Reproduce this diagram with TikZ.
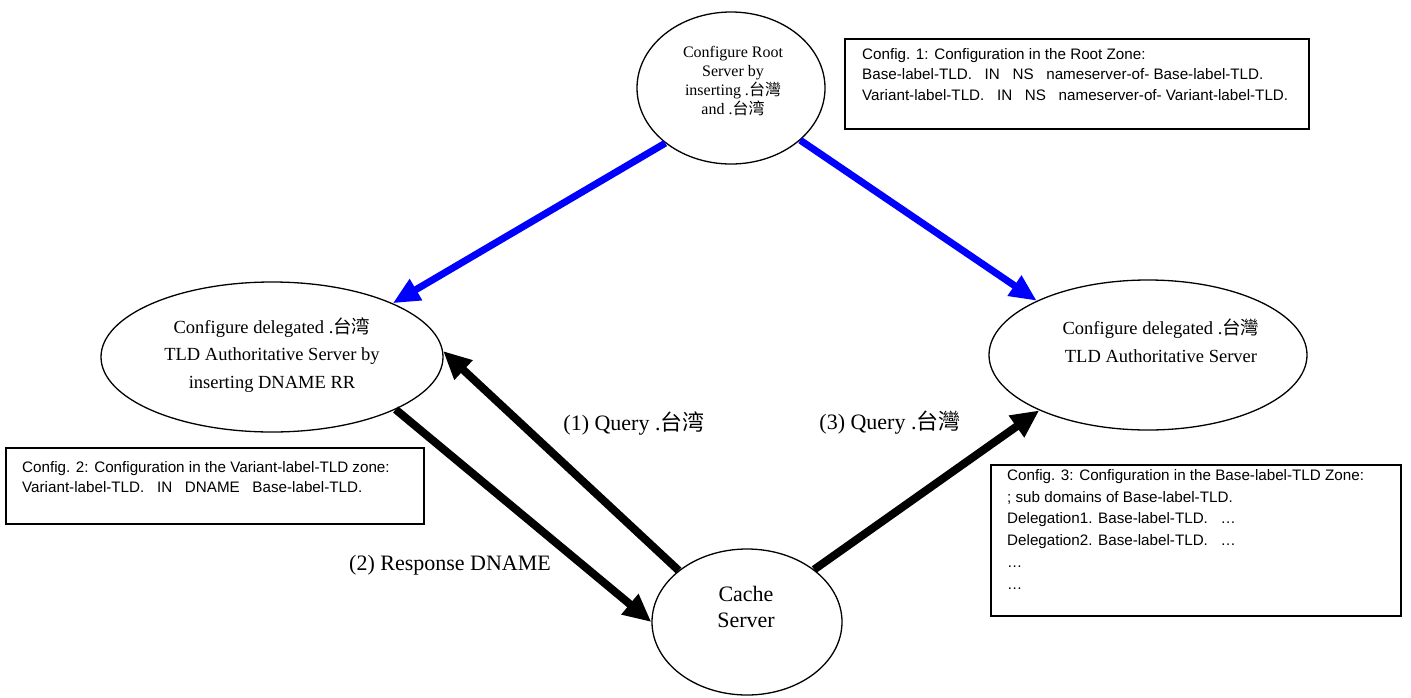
\documentclass[tikz,border=0pt]{standalone}
\usepackage{fontspec}
\setmainfont{Liberation Serif}
\setsansfont{Liberation Sans}
\newfontfamily\cjk{Noto Sans CJK TC}
\usetikzlibrary{arrows.meta,shapes.geometric}
\begin{document}
\begin{tikzpicture}[x=1pt,y=-1pt,
 ell/.style={draw, ellipse, line width=1.3pt, inner sep=0pt},
 cfgbox/.style={draw, line width=1.8pt, rectangle, inner sep=0pt, anchor=north west},
 cfgtext/.style={anchor=north west, inner sep=0pt, align=left, font=\sffamily\fontsize{15.2}{20.5}\selectfont},
 bluearrow/.style={draw=blue, line width=7pt, -{Triangle[length=27pt,width=23pt]}},
 blackarrow/.style={draw=black, line width=8pt, -{Triangle[length=28pt,width=25pt]}},
 lbl/.style={inner sep=0pt, font=\fontsize{22}{26}\selectfont},
 etext/.style={inner sep=0pt, align=center}
]
\useasboundingbox (0,0) rectangle (1411,697);
% ellipses
\node[ell, minimum width=188pt, minimum height=152pt] (root) at (731,88) {};
\node[ell, minimum width=342pt, minimum height=150pt] (left) at (272,357) {};
\node[ell, minimum width=318pt, minimum height=150pt] (right) at (1148,355) {};
\node[ell, minimum width=190pt, minimum height=146pt] (cache) at (747,622) {};
% ellipse texts
\node[etext, font=\fontsize{16}{19}\selectfont] (roottxt) at (733,81)
 {Configure Root\\Server by\\inserting .{\cjk 台灣}\\and .{\cjk 台湾}};
\node[etext, font=\fontsize{18.5}{27.5}\selectfont] (lefttxt) at (272,355)
 {Configure delegated .{\cjk 台湾}\\TLD Authoritative Server by\\inserting DNAME RR};
\node[etext, font=\fontsize{18.5}{27.5}\selectfont] (righttxt) at (1161,341)
 {Configure delegated .{\cjk 台灣}\\TLD Authoritative Server};
\node[etext, font=\fontsize{22}{26}\selectfont] (cachetxt) at (746,607)
 {Cache\\Server};
% config boxes
\node[cfgbox, minimum width=464pt, minimum height=90pt] (box1) at (844,38) {};
\node[cfgtext] (cfg1) at (862,48)
 {Config. 1: Configuration in the Root Zone:\\
  Base-label-TLD.\ \ \ IN\ \ \ NS\ \ \ nameserver-of- Base-label-TLD.\\
  Variant-label-TLD.\ \ \ IN\ \ \ NS\ \ \ nameserver-of- Variant-label-TLD.};
\node[cfgbox, minimum width=418pt, minimum height=76pt] (box2) at (5,447) {};
\node[cfgtext] (cfg2) at (22,461)
 {Config. 2: Configuration in the Variant-label-TLD zone:\\
  Variant-label-TLD.\ \ \ IN\ \ \ DNAME\ \ \ Base-label-TLD.};
\node[cfgbox, minimum width=410pt, minimum height=151pt] (box3) at (990,464) {};
\node[cfgtext, font=\sffamily\fontsize{15.2}{21.8}\selectfont] (cfg3) at (1007,469)
 {Config. 3: Configuration in the Base-label-TLD Zone:\\
  ; sub domains of Base-label-TLD.\\
  Delegation1. Base-label-TLD.\ \ \ …\\
  Delegation2. Base-label-TLD.\ \ \ …\\
  …\\
  …};
% labels
\node[lbl] (q1) at (634,423) {(1) Query .{\cjk 台湾}};
\node[lbl] (q3) at (890,423) {(3) Query .{\cjk 台灣}};
\node[lbl] (r2) at (450,565) {(2) Response DNAME};
% arrows
\draw[bluearrow] (root.220) -- (left.24);
\draw[bluearrow] (root.323) -- (right.154);
\draw[blackarrow] (cache.143) -- (left.2);
\draw[blackarrow] (left.337) -- (cache.180);
\draw[blackarrow] (cache.38) -- (right.207);
\end{tikzpicture}
\end{document}
